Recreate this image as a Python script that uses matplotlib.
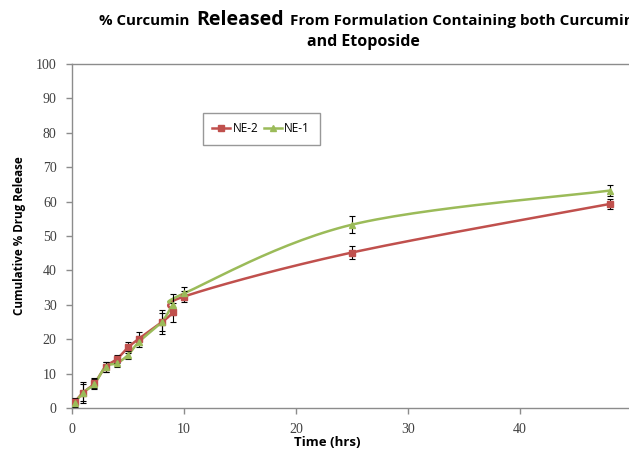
import numpy as np
import matplotlib
matplotlib.use("Agg")
import matplotlib.pyplot as plt

# data
time_hrs = [0.25, 1, 2, 3, 4, 5, 6, 8, 9, 10, 25, 48]
ne2 = [1.8, 4.5, 7.2, 12.0, 14.2, 17.6, 20.2, 24.9, 27.8, 32.4, 45.2, 59.3]
ne2_err = [1.0, 3.0, 1.5, 1.5, 1.2, 1.5, 2.0, 3.5, 2.8, 1.5, 2.0, 1.5]
ne1 = [1.4, 4.5, 7.0, 12.0, 13.0, 15.4, 19.3, 25.0, 30.0, 33.3, 53.3, 63.2]
ne1_err = [1.0, 2.5, 1.5, 1.5, 1.2, 1.2, 1.5, 2.5, 3.0, 2.0, 2.5, 1.5]
y_ticks = [0, 10, 20, 30, 40, 50, 60, 70, 80, 90, 100]
x_ticks = [0, 10, 20, 30, 40]

RED = "#C0504D"
GREEN = "#9BBB59"
AXIS = "#8C8C8C"
TICKCOL = "#404040"

W, H = 629, 454
X0, X1 = 72, 629
Y0, Y1 = 408, 64
XMAX = (X1 - X0) / 11.2


def smooth(xs, ys, sx, sy, n=30):
    # excel-like smoothed line: bezier through the points in screen space
    p = np.column_stack([np.asarray(xs) * sx, np.asarray(ys) * sy])
    p = np.vstack([p[0], p, p[-1]])
    out = []
    for i in range(1, len(p) - 2):
        p0, p1, p2, p3 = p[i - 1], p[i], p[i + 1], p[i + 2]
        c1 = p1 + (p2 - p0) / 6
        c2 = p2 - (p3 - p1) / 6
        t = np.linspace(0, 1, n)[:, None]
        seg = ((1 - t) ** 3) * p1 + 3 * ((1 - t) ** 2) * t * c1 + 3 * (1 - t) * t ** 2 * c2 + t ** 3 * p2
        out.append(seg)
    out = np.vstack(out)
    return out[:, 0] / sx, out[:, 1] / sy


fig = plt.figure(figsize=(W / 100, H / 100), dpi=100)
ax = fig.add_axes([X0 / W, 1 - Y0 / H, (X1 - X0) / W, (Y0 - Y1) / H])

sx = (X1 - X0) / XMAX
sy = (Y0 - Y1) / 100.0
for ys, err, col, mk, lab in [(ne2, ne2_err, RED, "s", "NE-2"), (ne1, ne1_err, GREEN, "^", "NE-1")]:
    lx, ly = smooth(time_hrs, ys, sx, sy)
    ax.plot(lx, ly, color=col, lw=1.8, zorder=2)
    ax.errorbar(time_hrs, ys, yerr=err, fmt="none", ecolor="black", elinewidth=0.8,
                capsize=2, capthick=0.8, zorder=3)
    ax.plot(time_hrs, ys, linestyle="none", marker=mk, color=col, markersize=5, zorder=4)
    ax.plot([], [], color=col, lw=1.8, marker=mk, markersize=4, label=lab)

ax.set_xlim(0, XMAX)
ax.set_ylim(0, 100)
ax.set_xticks(x_ticks)
ax.set_yticks(y_ticks)
ax.spines["right"].set_visible(False)
for s in ["left", "bottom", "top"]:
    ax.spines[s].set_color(AXIS)
    ax.spines[s].set_linewidth(1.0)
ax.tick_params(colors=AXIS, length=4, width=1.0, labelcolor=TICKCOL, labelsize=10)
ax.tick_params(axis="x", pad=7)
ax.tick_params(axis="y", pad=7)
for lbl in ax.get_xticklabels() + ax.get_yticklabels():
    lbl.set_family("Liberation Serif")

fig.text(327 / W, 1 - 443 / H, "Time (hrs)", fontsize=9.5, fontweight="bold",
         family="Open Sans", ha="center", va="center")
fig.text(20 / W, 1 - 236 / H, "Cumulative % Drug Release", rotation=90, fontsize=8.4,
         fontweight="bold", family="Open Sans", ha="center", va="center")

leg = ax.legend(loc="upper left", bbox_to_anchor=(203 / W, 1 - 113 / H),
                bbox_transform=fig.transFigure, ncol=2, frameon=True, fancybox=False,
                edgecolor="#7F7F7F", handlelength=1.5, handletextpad=0.2,
                columnspacing=0.5, borderpad=0.8, borderaxespad=0,
                prop={"family": "Open Sans", "size": 8.5})
leg.get_frame().set_linewidth(1.0)

# title: three pieces on one baseline, the middle word larger
base = 1 - 25 / H
fig.text(99 / W, base, "% Curcumin", fontsize=10.8, fontweight="bold",
         family="Open Sans", va="baseline")
fig.text(196 / W, base, "Released", fontsize=14, fontweight="bold",
         family="Open Sans", va="baseline")
fig.text(290 / W, base, "From Formulation Containing both Curcumin", fontsize=11.0,
         fontweight="bold", family="Open Sans", va="baseline")
fig.text(363 / W, 1 - 42 / H, "and Etoposide", fontsize=11.5, fontweight="bold",
         family="Open Sans", ha="center", va="center")

fig.savefig("out.png", dpi=100)
